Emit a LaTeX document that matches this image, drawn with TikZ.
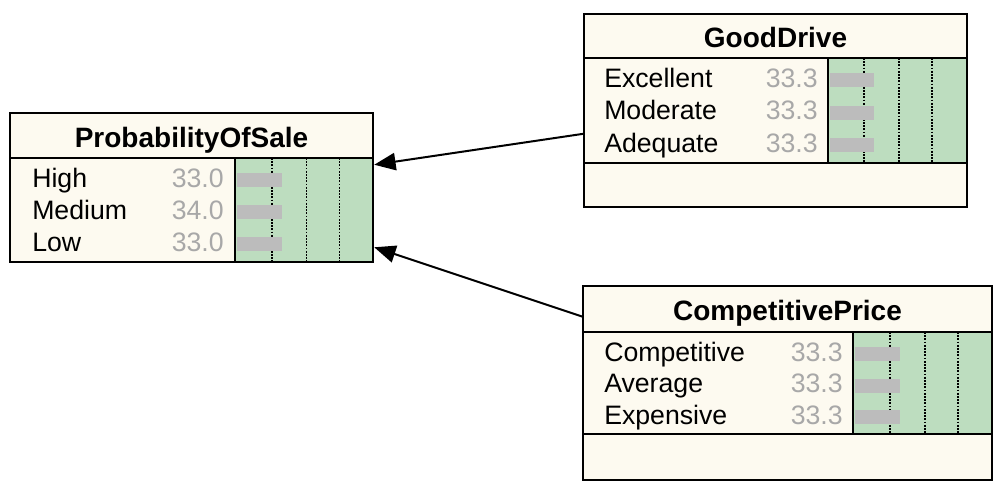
\documentclass[tikz,border=0pt]{standalone}
\usepackage{fontspec}
\setmainfont{Liberation Sans}
\usetikzlibrary{arrows.meta,fit,calc}
\definecolor{cream}{RGB}{253,250,240}
\definecolor{bngreen}{RGB}{189,221,191}
\definecolor{bargray}{RGB}{188,188,188}
\definecolor{numgray}{RGB}{168,168,168}
\begin{document}
\begin{tikzpicture}[x=0.75pt,y=-0.75pt,
  boxfill/.style={fill=cream, inner sep=0pt, draw=none},
  border/.style={draw=black, line width=1.5pt},
  ttl/.style={font=\fontsize{21}{25}\selectfont\bfseries, anchor=base, inner sep=0pt},
  lbl/.style={font=\fontsize{20}{24}\selectfont, anchor=base west, inner sep=0pt},
  num/.style={font=\fontsize{20}{24}\selectfont, text=numgray, anchor=base east, inner sep=0pt},
  gridline/.style={draw=black, line width=1.4pt, dash pattern=on 1.3pt off 1.1pt},
  bar/.style={fill=bargray},
  link/.style={draw=black, line width=1.5pt, -{Triangle[length=16pt,width=13pt]}}
]
\useasboundingbox (0,0) rectangle (997,487);

% ---------- ProbabilityOfSale ----------
\node[boxfill, fit={(10,113)(373,262)}] (pos) {};
\fill[bngreen] (235,158) rectangle (373,262);
\foreach \dx in {37,71.5,104.5} \draw[gridline] (235+\dx,158) -- (235+\dx,262);
\foreach \yb in {187,219,251} \fill[bar] (237,\yb-14) rectangle (282,\yb);
\draw[border] (10,158) -- (373,158);
\draw[border] (235,158) -- (235,262);
\draw[border] (pos.north west) rectangle (pos.south east);
\node[ttl] (posT) at (191.5,147) {ProbabilityOfSale};
\node[lbl] (posL1) at (32,187) {High};
\node[lbl] (posL2) at (32,219) {Medium};
\node[lbl] (posL3) at (32,251) {Low};
\node[num] (posN1) at (224,187) {33.0};
\node[num] (posN2) at (224,219) {34.0};
\node[num] (posN3) at (224,251) {33.0};

% ---------- GoodDrive ----------
\node[boxfill, fit={(584,14)(967,207)}] (gd) {};
\fill[bngreen] (828,58) rectangle (967,163);
\foreach \dx in {36,71,104} \draw[gridline] (828+\dx,58) -- (828+\dx,163);
\foreach \yb in {87,119.5,152} \fill[bar] (830,\yb-14) rectangle (874,\yb);
\draw[border] (584,58) -- (967,58);
\draw[border] (584,163) -- (967,163);
\draw[border] (828,58) -- (828,163);
\draw[border] (gd.north west) rectangle (gd.south east);
\node[ttl] (gdT) at (775.5,47) {GoodDrive};
\node[lbl] (gdL1) at (604,87) {Excellent};
\node[lbl] (gdL2) at (604,119.5) {Moderate};
\node[lbl] (gdL3) at (604,152) {Adequate};
\node[num] (gdN1) at (818,87) {33.3};
\node[num] (gdN2) at (818,119.5) {33.3};
\node[num] (gdN3) at (818,152) {33.3};

% ---------- CompetitivePrice ----------
\node[boxfill, fit={(583,286)(992,480)}] (cp) {};
\fill[bngreen] (853,332) rectangle (992,434);
\foreach \dx in {37,72,105} \draw[gridline] (853+\dx,332) -- (853+\dx,434);
\foreach \yb in {361,392.5,424} \fill[bar] (855,\yb-14) rectangle (900,\yb);
\draw[border] (583,332) -- (992,332);
\draw[border] (583,434) -- (992,434);
\draw[border] (853,332) -- (853,434);
\draw[border] (cp.north west) rectangle (cp.south east);
\node[ttl] (cpT) at (787.5,320) {CompetitivePrice};
\node[lbl] (cpL1) at (604,361) {Competitive};
\node[lbl] (cpL2) at (604,392.5) {Average};
\node[lbl] (cpL3) at (604,424) {Expensive};
\node[num] (cpN1) at (843,361) {33.3};
\node[num] (cpN2) at (843,392.5) {33.3};
\node[num] (cpN3) at (843,424) {33.3};

% ---------- links ----------
\coordinate (gdout) at ($(gd.north west)+(0,120)$);
\coordinate (posin1) at ($(pos.north east)+(1,52)$);
\coordinate (cpout) at ($(cp.north west)+(0,31)$);
\coordinate (posin2) at ($(pos.south east)+(1,-15)$);
\draw[link] (gdout) -- (posin1);
\draw[link] (cpout) -- (posin2);
\end{tikzpicture}
\end{document}
